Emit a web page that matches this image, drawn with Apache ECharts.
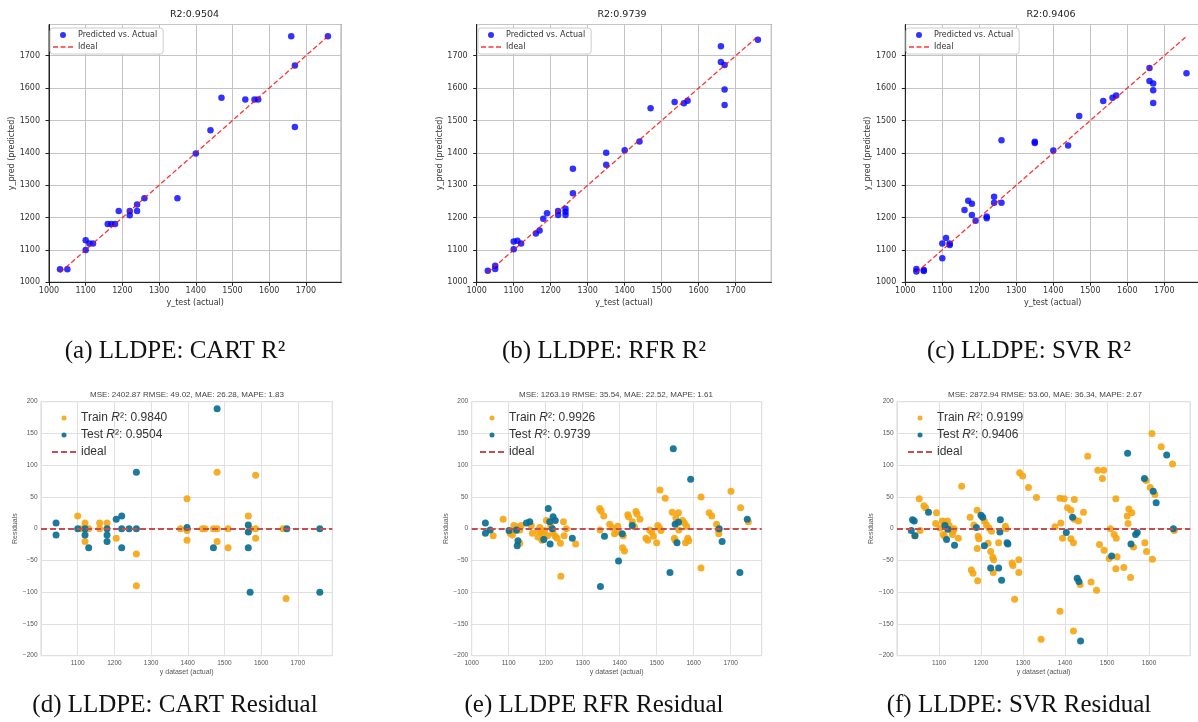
<!DOCTYPE html>
<html>
<head>
<meta charset="UTF-8">
<title>LLDPE: CART / RFR / SVR</title>
<script src="https://cdn.jsdelivr.net/npm/echarts@6/dist/echarts.min.js"></script>
<style>
  body { margin: 0; background: #fff; }
  #main { width: 1198px; height: 722px; }
</style>
</head>
<body>
<div id="main"></div>
<script>
// ---- top row: predicted vs actual (test set) ----
var idealRange = [1030, 1760];

var cartActual = [1030, 1050, 1100, 1100, 1110, 1120, 1160, 1170, 1180, 1190, 1220, 1220, 1240, 1240, 1260, 1350, 1400, 1440, 1470, 1535, 1560, 1570, 1660, 1670, 1670, 1760];
var cartPred   = [1040, 1040, 1130, 1100, 1120, 1120, 1180, 1180, 1180, 1220, 1220, 1207, 1240, 1220, 1260, 1260, 1398, 1470, 1570, 1565, 1565, 1565, 1760, 1670, 1480, 1760];

var rfrActual = [1030, 1050, 1050, 1100, 1100, 1110, 1120, 1160, 1170, 1180, 1190, 1220, 1220, 1240, 1240, 1240, 1260, 1260, 1350, 1350, 1400, 1440, 1470, 1535, 1560, 1570, 1660, 1660, 1670, 1670, 1670, 1760];
var rfrPred   = [1036, 1041, 1051, 1102, 1126, 1128, 1120, 1151, 1160, 1196, 1213, 1220, 1208, 1227, 1218, 1208, 1275, 1351, 1363, 1400, 1408, 1435, 1538, 1557, 1553, 1561, 1729, 1681, 1671, 1596, 1548, 1749];

var svrActual = [1030, 1030, 1050, 1050, 1100, 1100, 1110, 1120, 1120, 1160, 1170, 1180, 1180, 1190, 1220, 1220, 1240, 1240, 1260, 1260, 1350, 1350, 1400, 1440, 1470, 1535, 1560, 1570, 1660, 1660, 1670, 1670, 1670, 1760];
var svrPred   = [1041, 1033, 1038, 1035, 1120, 1074, 1137, 1120, 1115, 1223, 1252, 1243, 1208, 1190, 1203, 1198, 1264, 1246, 1246, 1439, 1434, 1430, 1407, 1423, 1514, 1560, 1570, 1577, 1662, 1622, 1614, 1593, 1554, 1646];

// ---- bottom row: residuals (x = predicted, y = residual) ----
var cartTrainX = [1100, 1109, 1120, 1120, 1130, 1160, 1160, 1180, 1205, 1260, 1260, 1380, 1398, 1398, 1398, 1440, 1447, 1470, 1480, 1480, 1480, 1510, 1510, 1565, 1570, 1585, 1585, 1585, 1660, 1668];
var cartTrainY = [20, 0, 9, -20, 0, 9, 0, 9, -15, -40, -90, 0, 47, -18, -3, 0, 0, 0, 89, 0, -20, 0, -30, 20, 0, 84, 0, -15, 0, -110];
var cartTestX = [1041, 1041, 1100, 1120, 1120, 1130, 1180, 1180, 1180, 1205, 1220, 1220, 1220, 1240, 1260, 1260, 1398, 1470, 1480, 1565, 1565, 1565, 1570, 1670, 1760, 1760];
var cartTestY = [9, -10, 0, 0, -10, -30, 0, -10, -20, 15, 20, 0, -30, 0, 89, 0, 2, -30, 189, 6, -5, -30, -100, 0, 0, -100];

var rfrTrainX = [1058, 1085, 1104, 1110, 1114, 1121, 1125, 1130, 1134, 1130, 1161, 1164, 1179, 1184, 1188, 1179, 1193, 1197, 1190, 1202,
  1205, 1214, 1220, 1226, 1231, 1248, 1256, 1250, 1240, 1281, 1241, 1346, 1350, 1357, 1347, 1373, 1380, 1386, 1395,
  1395, 1410, 1408, 1413, 1422, 1424, 1444, 1447, 1434, 1440, 1455, 1471, 1476, 1481, 1487, 1491, 1500, 1503, 1507, 1512,
  1509, 1523, 1542, 1559, 1552, 1570, 1575, 1581, 1584, 1587, 1578, 1548, 1550, 1560, 1620, 1620, 1642, 1649, 1662, 1667,
  1668, 1701, 1727, 1748];
var rfrTrainY = [-11, 15, -7, -10, 5, -3, 3, -2, 5, -23, 5, -7, -3, 2, -5, -13, -9, -3, -18, 13,
  -11, 4, -7, -12, -15, 11, 0, -11, -23, -24, -75, 32, 28, 20, -2, 7, 2, -8, 4,
  -5, -11, -30, -35, 22, 19, 27, 23, 11, 3, 15, -15, -18, -2, -5, -12, -22, 5, 2, -3,
  61, 48, 26, 25, 17, 13, 9, 4, -15, -19, -22, -15, -18, -2, 50, -62, 25, 20, 7, -2,
  -8, 59, 33, 11];
var rfrTestX = [1037, 1037, 1050, 1101, 1121, 1125, 1123, 1148, 1157, 1195, 1207, 1211, 1220, 1226, 1218, 1212, 1272, 1359, 1348, 1397,
  1407, 1434, 1545, 1592, 1550, 1559, 1555, 1536, 1669, 1677, 1725, 1745];
var rfrTestY = [9, -7, -2, -3, -2, -19, -27, 9, 11, -17, 32, 11, 19, 13, 0, -24, -15, -12, -91, -51,
  -8, 5, 126, 78, 7, 10, -22, -69, 0, -20, -69, 15];

var svrTrainX = [1053, 1064, 1068, 1055, 1042, 1094, 1092, 1102, 1108, 1113, 1120, 1110, 1113, 1129, 1134, 1132, 1136, 1146, 1124, 1154,
  1174, 1177, 1181, 1192, 1183, 1191, 1193, 1195, 1191, 1208, 1213, 1219, 1225, 1217, 1223, 1228, 1230, 1229, 1242, 1258,
  1260, 1274, 1276, 1290, 1290, 1280, 1292, 1299, 1313, 1332, 1343,
  1454, 1478, 1492, 1489, 1388, 1398, 1422, 1406, 1414, 1444, 1432, 1422, 1390, 1376, 1394, 1414, 1420, 1388, 1420, 1436,
  1462, 1475, 1482, 1493, 1505, 1508, 1517, 1522, 1521, 1521, 1524, 1540, 1548, 1552, 1559, 1550, 1556, 1563, 1590, 1594,
  1608, 1593, 1603, 1614, 1607, 1629, 1656, 1660];
var svrTrainY = [47, 36, 33, -3, -11, 25, 8, 1, 12, 10, 12, -9, -12, -2, -4, -9, 0, -15, 5, 67,
  18, -65, -70, -82, 6, 29, -12, -16, -31, 12, 6, 1, -4, -23, -36, -45, -49, -69, -22, 4,
  0, -54, -58, -49, -69, -111, 88, 83, 65, 49, -174,
  114, 92, 92, 79, 48, 47, 46, 33, 29, 26, 12, 15, 9, 3, -15, -16, -22, -130, -161, -88,
  -84, -97, -25, -34, -47, 0, -9, -15, 47, -63, -44, -61, 20, 31, 25, 8, -77, -29, -22, -36,
  -48, 76, 65, 54, 150, 129, 102, -3];
var svrTestX = [1037, 1041, 1034, 1043, 1075, 1114, 1121, 1118, 1137, 1189, 1200, 1204, 1208, 1223, 1242, 1249, 1246, 1245, 1262, 1264,
  1418, 1403, 1429, 1433, 1437, 1511, 1549, 1557, 1568, 1572, 1589, 1610, 1617, 1642, 1658];
var svrTestY = [14, 12, -3, -11, 26, 5, -1, -17, -26, 2, 21, 18, -27, -62, -62, -81, 14, -5, -22, -24,
  18, -6, -78, -83, -177, -43, 119, -24, -9, -6, 79, 59, 41, 116, 0];

function zip(xs, ys) {
  return xs.map(function (x, i) { return [x, ys[i]]; });
}
function plain(v) { return String(v); }
function minus(v) { return String(v).replace('-', '\u2212'); }

var chart = echarts.init(document.getElementById('main'));

var topFont = 'DejaVu Sans';
var botFont = 'Liberation Sans';
var dashTop = 'path://M0,0L0,6L0,0Z M0,2.25h5v1.5h-5Z M7.5,2.25h5v1.5h-5Z M15,2.25h5v1.5h-5Z';
var dashBot = 'path://M0,0L0,5L0,0Z M0,1.5h6v2h-6Z M9,1.5h6v2h-6Z M18,1.5h6v2h-6Z';

var topPanels = [
  { title: 'R2:0.9504', actual: cartActual, pred: cartPred, left: 49, width: 292.3, legendLeft: 50, cx: 194.5, caption: '(a) LLDPE: CART R\u00b2', capX: 175 },
  { title: 'R2:0.9739', actual: rfrActual, pred: rfrPred, left: 476.7, width: 294.7, legendLeft: 478, cx: 622, caption: '(b) LLDPE: RFR R\u00b2', capX: 604 },
  { title: 'R2:0.9406', actual: svrActual, pred: svrPred, left: 905.3, width: 294.7, legendLeft: 906, cx: 1051, caption: '(c) LLDPE: SVR R\u00b2', capX: 1029 }
];

var botPanels = [
  { title: 'MSE: 2402.87 RMSE: 49.02, MAE: 26.28, MAPE: 1.83', train: 'Train R\u00b2: 0.9840', test: 'Test R\u00b2: 0.9504',
    trX: cartTrainX, trY: cartTrainY, teX: cartTestX, teY: cartTestY,
    left: 41, width: 291.3, xMax: 1794, showMin: false, legendLeft: 52, nameGap: 19.5, cx: 187, caption: '(d) LLDPE: CART Residual', capX: 175 },
  { title: 'MSE: 1263.19 RMSE: 35.54, MAE: 22.52, MAPE: 1.61', train: 'Train R\u00b2: 0.9926', test: 'Test R\u00b2: 0.9739',
    trX: rfrTrainX, trY: rfrTrainY, teX: rfrTestX, teY: rfrTestY,
    left: 471.7, width: 290, xMax: 1784, showMin: true, legendLeft: 480, nameGap: 21.5, cx: 616, caption: '(e) LLDPE RFR Residual', capX: 594 },
  { title: 'MSE: 2872.94 RMSE: 53.60, MAE: 36.34, MAPE: 2.67', train: 'Train R\u00b2: 0.9199', test: 'Test R\u00b2: 0.9406',
    trX: svrTrainX, trY: svrTrainY, teX: svrTestX, teY: svrTestY,
    left: 897, width: 293.2, xMax: 1698, showMin: false, legendLeft: 908, nameGap: 19.5, cx: 1045, caption: '(f) LLDPE: SVR Residual', capX: 1019 }
];

var grids = [], xAxes = [], yAxes = [], series = [], legends = [], graphics = [];

function textEl(x, y, text, font, color) {
  return {
    type: 'text', x: x, y: y, silent: true,
    style: { text: text, font: font, fill: color, align: 'center', verticalAlign: 'middle',
             textAlign: 'center', textVerticalAlign: 'middle' }
  };
}

topPanels.forEach(function (p, i) {
  grids.push({ left: p.left, top: 24.5, width: p.width, height: 257.8, show: true,
    borderColor: '#222', borderWidth: 1, backgroundColor: '#fff', outerBoundsMode: 'none', containLabel: false });
  var axisCommon = {
    type: 'value', gridIndex: i, min: 1000, max: 1796.5, interval: 100,
    axisLine: { show: true, lineStyle: { color: '#222', width: 1 } },
    axisTick: { show: true, length: 3.5, lineStyle: { color: '#222' } },
    splitLine: { show: true, lineStyle: { color: '#c4c4c4', width: 1 } },
    nameLocation: 'middle',
    nameTextStyle: { fontSize: 8, color: '#333', fontFamily: topFont }
  };
  xAxes.push(Object.assign({}, axisCommon, {
    name: 'y_test (actual)', nameGap: 17,
    axisLabel: { fontSize: 8, color: '#333', fontFamily: topFont, margin: 5, showMaxLabel: false, hideOverlap: false, formatter: plain }
  }));
  yAxes.push(Object.assign({}, axisCommon, {
    name: 'y_pred (predicted)', nameGap: 31,
    axisLabel: { fontSize: 8, color: '#333', fontFamily: topFont, margin: 9, showMaxLabel: false, hideOverlap: false, formatter: plain }
  }));
  series.push({
    type: 'scatter', name: 'Predicted vs. Actual', xAxisIndex: i, yAxisIndex: i,
    data: zip(p.actual, p.pred), symbolSize: 6.5, z: 2,
    itemStyle: { color: '#0000ff' }
  });
  series.push({
    type: 'line', name: 'Ideal', xAxisIndex: i, yAxisIndex: i,
    data: zip(idealRange, idealRange), symbol: 'none', z: 3, color: 'rgba(255,0,0,0.8)',
    lineStyle: { color: 'rgba(255,0,0,0.8)', width: 1.3, type: [5, 2.5] }
  });
  legends.push({
    left: p.legendLeft, top: 28, orient: 'vertical', selectedMode: false,
    itemWidth: 20, itemHeight: 6, itemGap: 2, padding: [2, 6, 2, 3],
    backgroundColor: '#fff', borderColor: '#cccccc', borderWidth: 1, borderRadius: 3,
    itemStyle: { borderWidth: 0 },
    textStyle: { fontSize: 8, color: '#333', fontFamily: topFont, lineHeight: 10 },
    data: [{ name: 'Predicted vs. Actual', icon: 'circle' }, { name: 'Ideal', icon: dashTop }]
  });
  graphics.push(textEl(p.cx, 15, p.title, '9.5px "DejaVu Sans"', '#222'));
  graphics.push(textEl(p.capX, 351, p.caption, '25px "Liberation Serif"', '#111'));
});

botPanels.forEach(function (p, j) {
  var g = 3 + j;
  grids.push({ left: p.left, top: 401.7, width: p.width, height: 254, show: true,
    borderColor: '#d6d6d6', borderWidth: 1, backgroundColor: '#fff', outerBoundsMode: 'none', containLabel: false });
  var labelCommon = { fontSize: 6.5, color: '#555', fontFamily: botFont, hideOverlap: false };
  xAxes.push({
    type: 'value', gridIndex: g, min: 1000, max: p.xMax, interval: 100,
    axisLine: { show: false }, axisTick: { show: false },
    splitLine: { show: true, lineStyle: { color: '#e0e0e0', width: 1 } },
    axisLabel: Object.assign({ margin: 4, showMinLabel: p.showMin, showMaxLabel: false, formatter: plain }, labelCommon),
    name: 'y dataset (actual)', nameLocation: 'middle', nameGap: 12.5,
    nameTextStyle: { fontSize: 7, color: '#555', fontFamily: botFont }
  });
  yAxes.push({
    type: 'value', gridIndex: g, min: -200, max: 200, interval: 50,
    axisLine: { show: false }, axisTick: { show: false },
    splitLine: { show: true, lineStyle: { color: '#e0e0e0', width: 1 } },
    axisLabel: Object.assign({ margin: 3.5, formatter: minus }, labelCommon),
    name: 'Residuals', nameLocation: 'middle', nameGap: p.nameGap,
    nameTextStyle: { fontSize: 7, color: '#555', fontFamily: botFont }
  });
  series.push({
    type: 'scatter', name: p.train, xAxisIndex: g, yAxisIndex: g,
    data: zip(p.trX, p.trY), symbolSize: 7, z: 2,
    itemStyle: { color: '#f5a511', opacity: 0.9 }
  });
  series.push({
    type: 'scatter', name: p.test, xAxisIndex: g, yAxisIndex: g,
    data: zip(p.teX, p.teY), symbolSize: 7, z: 3,
    itemStyle: { color: '#0b6f92', opacity: 0.92 }
  });
  series.push({
    type: 'line', name: 'ideal', xAxisIndex: g, yAxisIndex: g, data: [], z: 4,
    color: '#c44e52', symbol: 'none',
    lineStyle: { color: '#c44e52', width: 1.8, type: [6, 3] },
    markLine: {
      silent: true, symbol: 'none', label: { show: false },
      lineStyle: { color: '#c44e52', width: 1.8, type: [6, 3] },
      data: [{ yAxis: 0 }]
    }
  });
  legends.push({
    left: p.legendLeft, top: 411, orient: 'vertical', selectedMode: false,
    itemWidth: 24, itemHeight: 5, itemGap: 3, padding: 0,
    itemStyle: { borderWidth: 0 },
    textStyle: {
      fontSize: 12, color: '#333', fontFamily: botFont, lineHeight: 14,
      rich: { i: { fontSize: 12, fontStyle: 'italic', color: '#333', fontFamily: botFont } }
    },
    formatter: function (name) { return name.replace('R\u00b2', '{i|R}\u00b2'); },
    data: [{ name: p.train, icon: 'circle' }, { name: p.test, icon: 'circle' }, { name: 'ideal', icon: dashBot }]
  });
  graphics.push(textEl(p.cx, 395, p.title, '8px "Liberation Sans"', '#444'));
  graphics.push(textEl(p.capX, 705, p.caption, '25px "Liberation Serif"', '#111'));
});

chart.setOption({
  animation: false,
  backgroundColor: '#fff',
  grid: grids,
  xAxis: xAxes,
  yAxis: yAxes,
  legend: legends,
  series: series,
  graphic: graphics
});
</script>
</body>
</html>
